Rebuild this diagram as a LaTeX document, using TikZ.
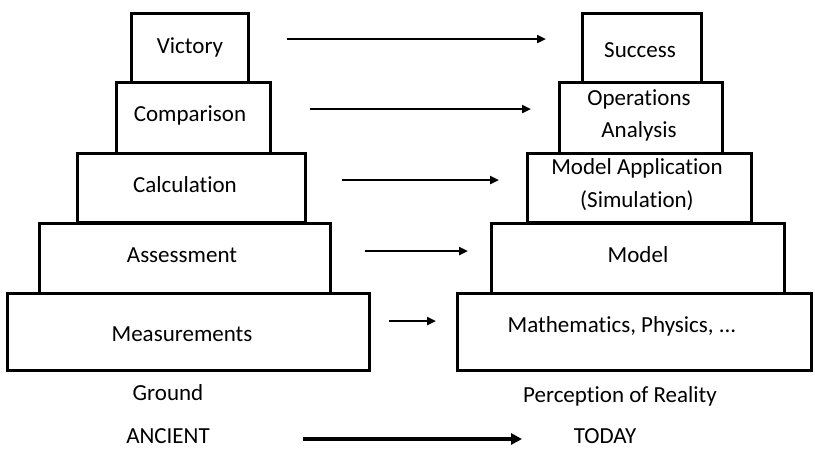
\documentclass[tikz,border=0pt]{standalone}
\usepackage{fontspec}
\setmainfont{Carlito}[Ligatures={NoCommon,NoContextual,NoRare},Contextuals={NoAlternate}]
\usetikzlibrary{arrows.meta}
\begin{document}
\begin{tikzpicture}[x=1pt,y=-1pt,
  tier/.style={draw=black,line width=3pt,inner sep=0pt,align=center},
  caption/.style={inner sep=0pt,font=\fontsize{23}{27}\selectfont},
  link/.style={line width=2.5pt,-{Triangle[length=9pt,width=8pt]}},
  era/.style={line width=4pt,-{Triangle[length=11pt,width=11pt]}}]
\useasboundingbox (0,0) rectangle (815,448);
% ancient pyramid
\node[tier,minimum width=362pt,minimum height=77pt] (meas) at (188,331.5) {};
\node[tier,minimum width=291pt,minimum height=70pt] (asse) at (184.5,258) {};
\node[tier,minimum width=228pt,minimum height=69pt] (calc) at (191,187.5) {};
\node[tier,minimum width=154pt,minimum height=71pt] (comp) at (193,117.5) {};
\node[tier,minimum width=117pt,minimum height=69pt] (vict) at (189.5,47.5) {};
% today pyramid
\node[tier,minimum width=354pt,minimum height=77pt] (math) at (634,331.5) {};
\node[tier,minimum width=293pt,minimum height=70pt] (mod) at (637.5,258) {};
\node[tier,minimum width=224pt,minimum height=69pt] (app) at (639,187.5) {};
\node[tier,minimum width=163pt,minimum height=71pt] (ops) at (640.5,117.5) {};
\node[tier,minimum width=119pt,minimum height=69pt] (succ) at (641.5,47.5) {};
% labels of the tiers
\node[caption] (tmeas) at (182,334) {Measurements};
\node[caption] (tasse) at (182,255) {Assessment};
\node[caption] (tcalc) at (185,185) {Calculation};
\node[caption] (tcomp) at (190,115) {Comparison};
\node[caption] (tvict) at (190,47) {Victory};
\node[caption] (tmath) at (622,326) {Mathematics, Physics, ...};
\node[caption] (tmod) at (638,255) {Model};
\node[caption,align=center,font=\fontsize{23}{33}\selectfont] (tapp) at (637,184.5) {Model Application\\(Simulation)};
\node[caption,align=center,font=\fontsize{23}{32}\selectfont] (tops) at (639,115) {Operations\\ Analysis};
\node[caption] (tsucc) at (640,50) {Success};
\node[caption] (ground) at (168,393) {Ground};
\node[caption] (percep) at (620,396) {Perception of Reality};
\node[caption] (ancient) at (168,436) {ANCIENT};
\node[caption] (today) at (605,436) {TODAY};
% correspondences between the tiers
\coordinate (a1) at (287,39);  \coordinate (b1) at (546,39);
\coordinate (a2) at (310,109); \coordinate (b2) at (531,109);
\coordinate (a3) at (342,180); \coordinate (b3) at (499,180);
\coordinate (a4) at (365,251); \coordinate (b4) at (468,251);
\coordinate (a5) at (389,321); \coordinate (b5) at (436,321);
\coordinate (a6) at (303,439); \coordinate (b6) at (522,439);
\draw[link] (a1) -- (b1);
\draw[link] (a2) -- (b2);
\draw[link] (a3) -- (b3);
\draw[link] (a4) -- (b4);
\draw[link] (a5) -- (b5);
\draw[era] (a6) -- (b6);
\end{tikzpicture}
\end{document}
